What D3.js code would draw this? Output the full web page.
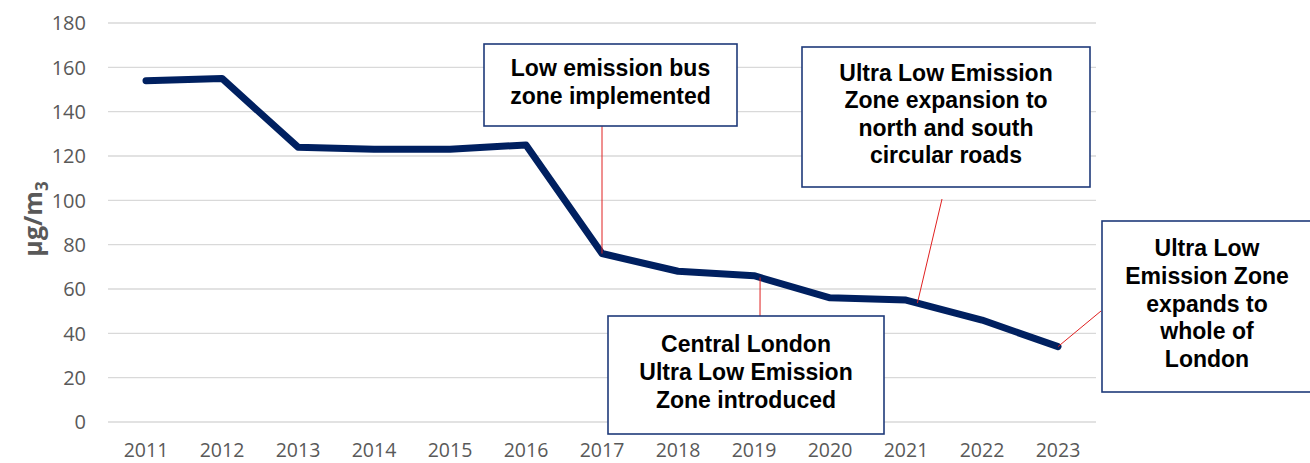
<!DOCTYPE html>
<html><head><meta charset="utf-8">
<script src="https://cdn.jsdelivr.net/npm/d3@7"></script>
<style>body{margin:0;background:#fff}svg{display:block}</style>
</head><body>
<script>
const years = ["2011","2012","2013","2014","2015","2016","2017","2018","2019","2020","2021","2022","2023"];
const values = [154,155,124,123,123,125,76,68,66,56,55,46,34];
const yTicks = [0,20,40,60,80,100,120,140,160,180];
const annotationLabels = [
  ["Low emission bus","zone implemented"],
  ["Central London","Ultra Low Emission","Zone introduced"],
  ["Ultra Low Emission","Zone expansion to","north and south","circular roads"],
  ["Ultra Low","Emission Zone","expands to","whole of","London"]
];
// where each leader touches the series (year index, fractional)
const annotationTargets = [6, 8.08, 10.15, 12];
// box layout [x, y, w, h] and leader start point
const annotationBoxes = [[484,44,253,82],[608,316,276,118],[802,47,288,140],[1102,221,210,171]];
const annotationFrom = [[602,126],[760,316],[942,199],[1101,311]];

const W=1310,H=463;
const svg=d3.select("body").append("svg").attr("width",W).attr("height",H);
const x=d3.scaleBand().domain(years).range([108,1096]);
const y=d3.scaleLinear().domain([0,180]).range([422,23]);
const px=d=>x(d)+x.bandwidth()/2;

// gridlines
svg.append("g").selectAll("line").data(yTicks).join("line")
  .attr("x1",108).attr("x2",1096).attr("y1",d=>y(d)).attr("y2",d=>y(d))
  .attr("stroke","#d9d9d9").attr("stroke-width",1.3);

// y tick labels
svg.append("g").selectAll("text").data(yTicks).join("text")
  .attr("x",86).attr("y",d=>y(d)).attr("dy","0.36em").attr("text-anchor","end")
  .attr("font-family","Open Sans, sans-serif").attr("font-size",20).attr("fill","#595959")
  .text(d=>d);

// x tick labels
svg.append("g").selectAll("text").data(years).join("text")
  .attr("x",d=>px(d)).attr("y",457).attr("text-anchor","middle")
  .attr("font-family","Open Sans, sans-serif").attr("font-size",19.5).attr("fill","#595959")
  .text(d=>d);

// y axis title
const t=svg.append("text").attr("transform","translate(42,219) rotate(-90)")
  .attr("text-anchor","middle").attr("font-family","Open Sans, sans-serif")
  .attr("font-size",25).attr("font-weight","bold").attr("fill","#595959");
t.append("tspan").text("μg/m");
t.append("tspan").attr("font-size",17).attr("dy",6).text("3");

// line
svg.append("path").datum(years.map((yr,i)=>[px(yr),y(values[i])]))
  .attr("d",d3.line()).attr("fill","none").attr("stroke","#002060")
  .attr("stroke-width",7).attr("stroke-linejoin","round").attr("stroke-linecap","round");

// leaders
const step=x.step();
annotationTargets.forEach((f,k)=>{
  const i0=Math.floor(f), i1=Math.min(i0+1,values.length-1), fr=f-i0;
  const tx=px(years[0])+f*step;
  const tv=values[i0]+(values[i1]-values[i0])*fr;
  svg.append("line").attr("x1",annotationFrom[k][0]).attr("y1",annotationFrom[k][1])
    .attr("x2",tx).attr("y2",y(tv)).attr("stroke","#e02020").attr("stroke-width",1);
});

// boxes
annotationLabels.forEach((lines,k)=>{
  const [bx,by,bw,bh]=annotationBoxes[k];
  svg.append("rect").attr("x",bx).attr("y",by).attr("width",bw).attr("height",bh)
    .attr("fill","#fff").attr("stroke","#1f3a7a").attr("stroke-width",1.6);
  const n=lines.length, lh=27.6, cy=by+bh/2;
  svg.append("g").selectAll("text").data(lines).join("text")
    .attr("x",bx+bw/2).attr("y",(d,j)=>cy+(j-(n-1)/2)*lh+5)
    .attr("text-anchor","middle").attr("font-family","Liberation Sans, Arial, sans-serif")
    .attr("font-weight","bold").attr("font-size",23).attr("fill","#000").text(d=>d);
});
</script>
</body></html>
